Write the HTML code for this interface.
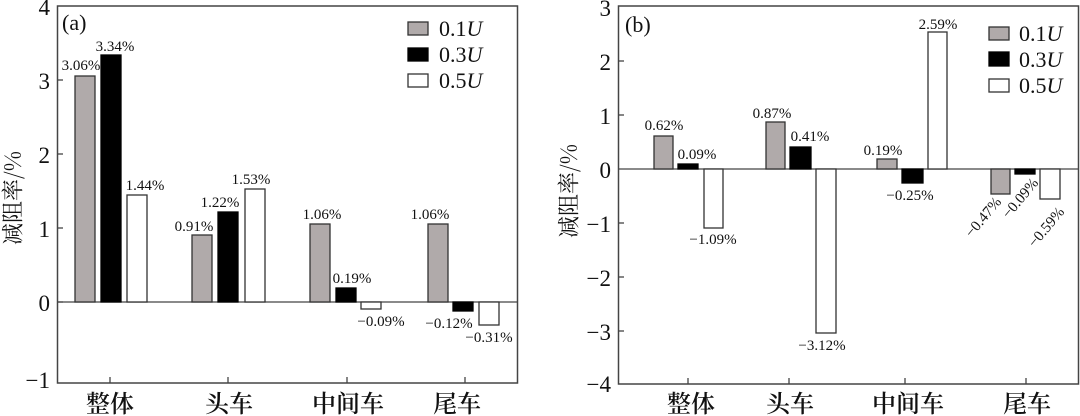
<!DOCTYPE html>
<html><head><meta charset="utf-8"><style>
html,body{margin:0;padding:0;background:#fff;}
svg{display:block;}
text{font-family:"Liberation Serif","Noto Serif CJK SC",serif;fill:#111;}
.cat{font-family:"Noto Serif CJK SC","Noto Sans CJK SC",serif;font-size:24px;font-weight:600;text-anchor:middle;}
.tk{font-size:23px;text-anchor:end;}
.v{font-size:15px;text-anchor:middle;}
.lg{font-size:22px;}
.g{fill:#b0aaaa;stroke:#333;stroke-width:1.3;}
.k{fill:#000;stroke:#000;stroke-width:1.3;}
.w{fill:#fff;stroke:#333;stroke-width:1.3;}
</style></head><body>
<svg width="1080" height="416" viewBox="0 0 1080 416" xmlns="http://www.w3.org/2000/svg">
<g>
<rect x="57.5" y="6" width="460" height="377" fill="none" stroke="#444" stroke-width="1.5"/>
<line x1="57.5" y1="302" x2="517.5" y2="302" stroke="#444" stroke-width="1.3"/>
<g stroke="#444" stroke-width="1.3">
<line x1="58" y1="80" x2="63" y2="80"/><line x1="58" y1="154" x2="63" y2="154"/><line x1="58" y1="228" x2="63" y2="228"/><line x1="58" y1="302" x2="63" y2="302"/>
<line x1="110" y1="383" x2="110" y2="377"/><line x1="228" y1="383" x2="228" y2="377"/><line x1="347" y1="383" x2="347" y2="377"/><line x1="465" y1="383" x2="465" y2="377"/>
</g>
<text class="tk" x="50" y="15">4</text><text class="tk" x="50" y="89">3</text><text class="tk" x="50" y="163">2</text><text class="tk" x="50" y="237">1</text><text class="tk" x="50" y="311">0</text><text class="tk" x="50" y="388">−1</text>
<text x="12" y="198" transform="rotate(-90 12 198)" style="font-size:22px;text-anchor:middle;dominant-baseline:central;font-family:'Noto Serif CJK SC',serif">减阻率/%</text>
<text x="62" y="30" style="font-size:22px">(a)</text>
<rect class="g" x="75" y="76" width="20" height="226"/>
<rect class="k" x="101" y="55" width="20" height="247"/>
<rect class="w" x="127" y="195" width="20" height="107"/>
<rect class="g" x="192" y="235" width="20" height="67"/>
<rect class="k" x="218" y="212" width="20" height="90"/>
<rect class="w" x="245" y="189" width="20" height="113"/>
<rect class="g" x="310" y="224" width="20" height="78"/>
<rect class="k" x="336" y="288" width="20" height="14"/>
<rect class="w" x="361" y="302" width="20" height="7"/>
<rect class="g" x="428" y="224" width="20" height="78"/>
<rect class="k" x="453" y="302" width="20" height="9"/>
<rect class="w" x="479" y="302" width="20" height="23"/>
<text class="v" x="81" y="70">3.06%</text><text class="v" x="115" y="51">3.34%</text><text class="v" x="145" y="190">1.44%</text>
<text class="v" x="194" y="231">0.91%</text><text class="v" x="220" y="207">1.22%</text><text class="v" x="251" y="184">1.53%</text>
<text class="v" x="322" y="219">1.06%</text><text class="v" x="352" y="283">0.19%</text><text class="v" x="381" y="326">−0.09%</text>
<text class="v" x="430" y="219">1.06%</text><text class="v" x="449" y="328">−0.12%</text><text class="v" x="489" y="342">−0.31%</text>
<rect class="g" x="408" y="22" width="20" height="13"/><rect class="k" x="408" y="48" width="20" height="13"/><rect class="w" x="408" y="74" width="20" height="13"/>
<text class="lg" x="439" y="36">0.1<tspan font-style="italic">U</tspan></text>
<text class="lg" x="439" y="62">0.3<tspan font-style="italic">U</tspan></text>
<text class="lg" x="439" y="88">0.5<tspan font-style="italic">U</tspan></text>
<text class="cat" x="110" y="412">整体</text><text class="cat" x="229" y="412">头车</text><text class="cat" x="348" y="412">中间车</text><text class="cat" x="457" y="412">尾车</text>
</g>
<g>
<rect x="618.5" y="6" width="460" height="378" fill="none" stroke="#444" stroke-width="1.5"/>
<line x1="618.5" y1="169" x2="1078.5" y2="169" stroke="#444" stroke-width="1.3"/>
<g stroke="#444" stroke-width="1.3">
<line x1="619" y1="61" x2="624" y2="61"/><line x1="619" y1="115" x2="624" y2="115"/><line x1="619" y1="223" x2="624" y2="223"/><line x1="619" y1="277" x2="624" y2="277"/><line x1="619" y1="331" x2="624" y2="331"/>
<line x1="688" y1="384" x2="688" y2="378"/><line x1="789" y1="384" x2="789" y2="378"/><line x1="905" y1="384" x2="905" y2="378"/><line x1="1026" y1="384" x2="1026" y2="378"/>
</g>
<text class="tk" x="611" y="16">3</text><text class="tk" x="611" y="70">2</text><text class="tk" x="611" y="124">1</text><text class="tk" x="611" y="178">0</text><text class="tk" x="611" y="232">−1</text><text class="tk" x="611" y="286">−2</text><text class="tk" x="611" y="340">−3</text><text class="tk" x="611" y="392">−4</text>
<text x="568" y="191" transform="rotate(-90 568 191)" style="font-size:22px;text-anchor:middle;dominant-baseline:central;font-family:'Noto Serif CJK SC',serif">减阻率/%</text>
<text x="625" y="32" style="font-size:22px">(b)</text>
<rect class="g" x="654" y="136" width="19" height="33"/>
<rect class="k" x="678" y="164" width="20" height="5"/>
<rect class="w" x="704" y="169" width="19" height="59"/>
<rect class="g" x="766" y="122" width="19" height="47"/>
<rect class="k" x="790" y="147" width="21" height="22"/>
<rect class="w" x="816" y="169" width="20" height="164"/>
<rect class="g" x="877" y="159" width="20" height="10"/>
<rect class="k" x="902" y="169" width="21" height="14"/>
<rect class="w" x="928" y="32" width="19" height="137"/>
<rect class="g" x="991" y="169" width="19" height="25"/>
<rect class="k" x="1015" y="169" width="20" height="5"/>
<rect class="w" x="1040" y="169" width="20" height="30"/>
<text class="v" x="664" y="130">0.62%</text><text class="v" x="697" y="159">0.09%</text><text class="v" x="713" y="244">−1.09%</text>
<text class="v" x="772" y="118">0.87%</text><text class="v" x="810" y="141">0.41%</text><text class="v" x="822" y="350">−3.12%</text>
<text class="v" x="883" y="155">0.19%</text><text class="v" x="910" y="200">−0.25%</text><text class="v" x="938" y="29">2.59%</text>
<text class="v" x="983" y="222" transform="rotate(-50 983 217)">−0.47%</text>
<text class="v" x="1020" y="203" transform="rotate(-50 1020 198)">−0.09%</text>
<text class="v" x="1046" y="232" transform="rotate(-50 1046 227)">−0.59%</text>
<rect class="g" x="989" y="27" width="20" height="13"/><rect class="k" x="989" y="52" width="20" height="14"/><rect class="w" x="989" y="79" width="20" height="13"/>
<text class="lg" x="1019" y="41">0.1<tspan font-style="italic">U</tspan></text>
<text class="lg" x="1019" y="67">0.3<tspan font-style="italic">U</tspan></text>
<text class="lg" x="1019" y="93">0.5<tspan font-style="italic">U</tspan></text>
<text class="cat" x="691" y="412">整体</text><text class="cat" x="790" y="412">头车</text><text class="cat" x="908" y="412">中间车</text><text class="cat" x="1027" y="412">尾车</text>
</g>
</svg>
</body></html>
